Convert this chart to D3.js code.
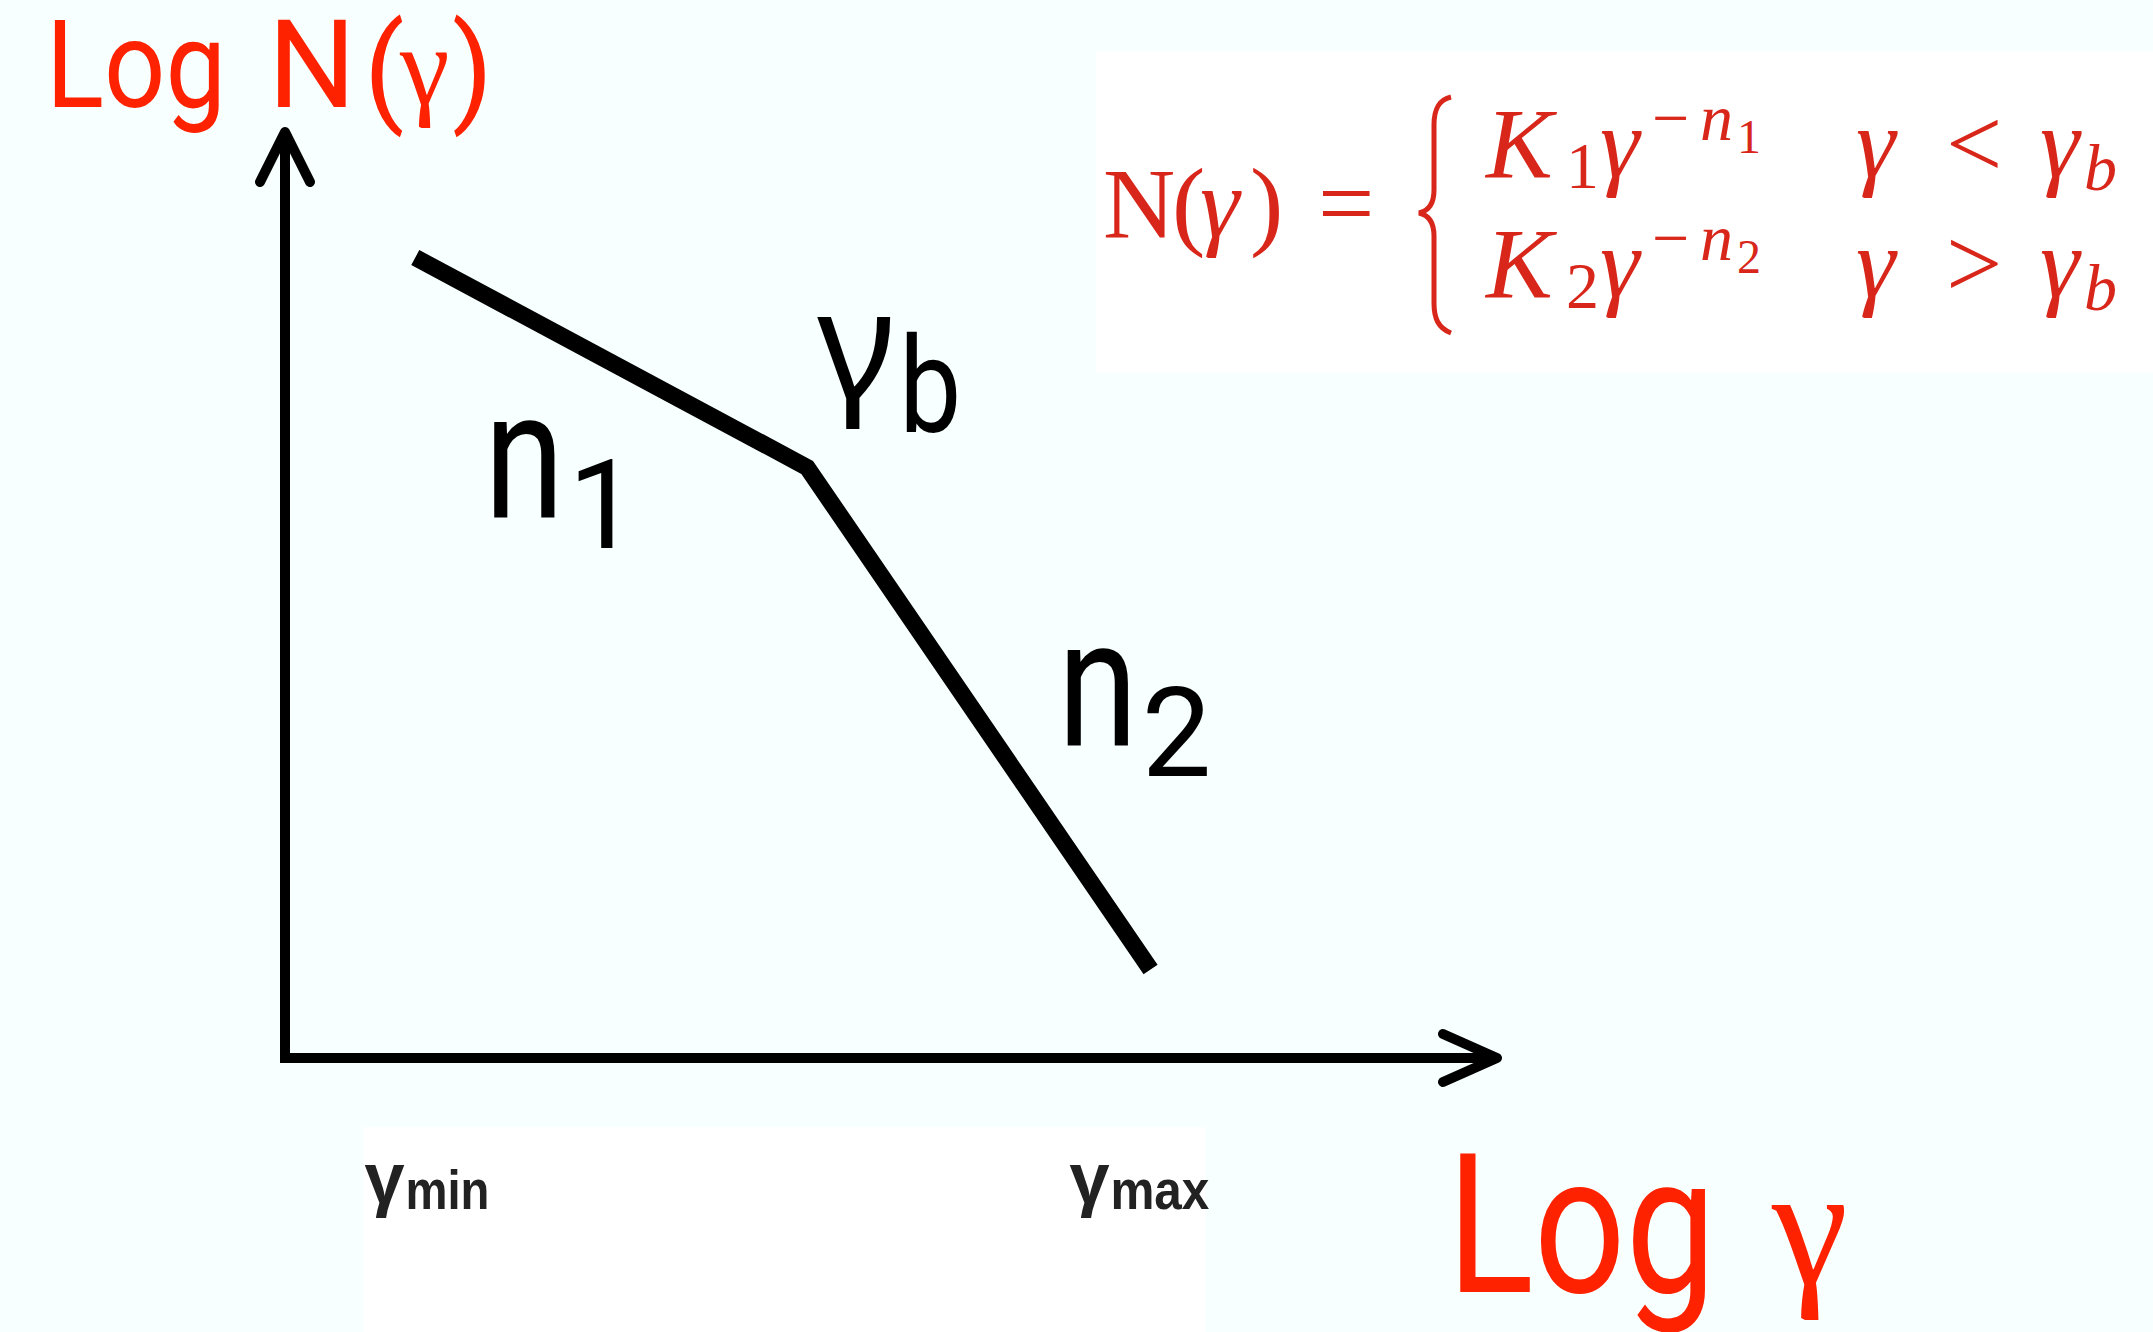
<!DOCTYPE html>
<html>
<head>
<meta charset="utf-8">
<script src="https://cdn.jsdelivr.net/npm/d3@7"></script>
<style>
  html, body { margin: 0; padding: 0; background: #f7ffff; }
  svg { display: block; }
</style>
</head>
<body>
<script>
// Broken power-law electron spectrum sketched on log–log axes.
const logGamma   = [1.29, 5.17, 8.57];   // log γ at γmin, γb, γmax
const logN       = [7.78, 5.74, 0.86];   // log N(γ) at the same points
const xExtent    = [0, 12];              // log γ axis
const yExtent    = [0, 9];               // log N(γ) axis
const tickPos    = [1.42, 8.40];         // positions of the γmin / γmax labels
const tickSub    = ["min", "max"];
const slopeSub   = ["1", "2"];           // n₁, n₂
const caseSub    = ["1", "2"];           // K₁, K₂ rows of the formula
const caseOp     = ["<", ">"];

const W = 2153, H = 1332;
const svg = d3.select("body").append("svg").attr("width", W).attr("height", H);

const x = d3.scaleLinear().domain(xExtent).range([285, 1497]);
const y = d3.scaleLinear().domain(yExtent).range([1058, 132]);

const RED = "#ff2200", FRED = "#d8261a", INK = "#000", GREY = "#222";
const HAND = "Roboto, 'Open Sans', sans-serif";
const SERIF = "'Liberation Serif', 'DejaVu Serif', serif";
const NARROW = "'Liberation Sans Narrow', 'Liberation Sans', sans-serif";

// background panels
svg.append("rect").attr("x", 1096).attr("y", 52).attr("width", W - 1096).attr("height", 320).attr("fill", "#fff");
svg.append("rect").attr("x", 364).attr("y", 1127).attr("width", 841).attr("height", H - 1127).attr("fill", "#fff");

// axes with arrowheads
const x0 = x(xExtent[0]), y0 = y(yExtent[0]);
const xTip = x(xExtent[1]), yTip = y(yExtent[1]);
const axes = d3.path();
axes.moveTo(x0, yTip); axes.lineTo(x0, y0); axes.lineTo(xTip, y0);
svg.append("path").attr("d", axes.toString())
  .attr("fill", "none").attr("stroke", INK).attr("stroke-width", 10)
  .attr("stroke-linejoin", "miter");
const heads = d3.path();
heads.moveTo(x0 - 25, yTip + 50); heads.lineTo(x0, yTip); heads.lineTo(x0 + 25, yTip + 50);
heads.moveTo(xTip - 54, y0 - 24); heads.lineTo(xTip, y0); heads.lineTo(xTip - 54, y0 + 24);
svg.append("path").attr("d", heads.toString())
  .attr("fill", "none").attr("stroke", INK).attr("stroke-width", 10)
  .attr("stroke-linecap", "round").attr("stroke-linejoin", "round");

// the spectrum
const pts = logGamma.map((g, i) => [g, logN[i]]);
svg.append("path").datum(pts)
  .attr("d", d3.line().x(d => x(d[0])).y(d => y(d[1])))
  .attr("fill", "none").attr("stroke", INK).attr("stroke-width", 17)
  .attr("stroke-linejoin", "miter").attr("stroke-linecap", "butt");

// slope labels n1, n2 beside each segment
const mids = d3.range(2).map(i => [
  (x(logGamma[i]) + x(logGamma[i + 1])) / 2,
  (y(logN[i]) + y(logN[i + 1])) / 2
]);
const slopeOff = [[-127, 155], [79, 27]];
mids.forEach((m, i) => {
  const bx = m[0] + slopeOff[i][0], by = m[1] + slopeOff[i][1];
  svg.append("text").attr("x", bx).attr("y", by)
    .attr("font-family", HAND).attr("font-size", 180).attr("fill", INK)
    .attr("textLength", 80).attr("lengthAdjust", "spacingAndGlyphs").text("n");
  svg.append("text").attr("x", bx + 84).attr("y", by + 31)
    .attr("font-family", HAND).attr("font-size", 124).attr("fill", INK).text(slopeSub[i]);
});

// break label γb at the knee
const kx = x(logGamma[1]), ky = y(logN[1]);
svg.append("text").attr("x", kx + 10).attr("y", ky - 70)
  .attr("font-family", "'Noto Sans', sans-serif").attr("font-size", 150).attr("fill", INK).text("γ");
svg.append("text").attr("x", kx + 92).attr("y", ky - 35)
  .attr("font-family", HAND).attr("font-size", 134).attr("fill", INK)
  .attr("textLength", 62).attr("lengthAdjust", "spacingAndGlyphs").text("b");

// γmin / γmax labels under the x axis
tickPos.forEach((t, i) => {
  const cx = x(t);
  svg.append("text").attr("x", cx - 64).attr("y", 1203)
    .attr("font-family", NARROW).attr("font-weight", "bold").attr("font-size", 72)
    .attr("fill", GREY).text("γ");
  svg.append("text").attr("x", cx - 23).attr("y", 1209)
    .attr("font-family", NARROW).attr("font-weight", "bold").attr("font-size", 56)
    .attr("fill", GREY).attr("textLength", i === 0 ? 84 : 99)
    .attr("lengthAdjust", "spacingAndGlyphs").text(tickSub[i]);
});

// axis titles
const yt = svg.append("g").attr("fill", RED);
yt.append("text").attr("x", 46).attr("y", 107).attr("font-family", HAND).attr("font-size", 122)
  .attr("textLength", 180).attr("lengthAdjust", "spacingAndGlyphs").text("Log");
yt.append("text").attr("x", 268).attr("y", 107).attr("font-family", HAND).attr("font-size", 122)
  .attr("textLength", 88).attr("lengthAdjust", "spacingAndGlyphs").text("N");
yt.append("text").attr("x", 364).attr("y", 110).attr("font-family", HAND).attr("font-size", 118).text("(");
yt.append("text").attr("x", 400).attr("y", 104).attr("font-family", SERIF).attr("font-size", 112).text("γ");
yt.append("text").attr("x", 452).attr("y", 110).attr("font-family", HAND).attr("font-size", 118).text(")");

const xt = svg.append("g").attr("fill", RED);
xt.append("text").attr("x", 1447).attr("y", 1292).attr("font-family", HAND).attr("font-size", 195)
  .attr("textLength", 269).attr("lengthAdjust", "spacingAndGlyphs").text("Log");
xt.append("text").attr("x", 1772).attr("y", 1283).attr("font-family", SERIF).attr("font-size", 172).text("γ");

// piecewise definition of N(γ)
const f = svg.append("g").attr("fill", FRED).attr("font-family", SERIF);
const put = (X, Y, s, size, italic) => f.append("text")
  .attr("x", X).attr("y", Y).attr("font-size", size)
  .attr("font-style", italic ? "italic" : "normal").text(s);
put(1103, 237, "N", 100, false);
put(1172, 237, "(", 100, false);
put(1200, 237, "γ", 100, true);
put(1250, 237, ")", 100, false);
put(1318, 237, "=", 100, false);
caseSub.forEach((k, i) => {
  const by = 177 + i * 120;
  put(1486, by, "K", 100, true);
  put(1566, by + 11, k, 66, false);
  put(1600, by, "γ", 100, true);
  put(1652, by - 37, "−", 66, false);
  put(1700, by - 37, "n", 66, true);
  put(1737, by - 24, k, 48, false);
  put(1856, by, "γ", 100, true);
  put(1946, by, caseOp[i], 100, false);
  put(2040, by, "γ", 100, true);
  put(2084, by + 13, "b", 66, true);
});
svg.append("path")
  .attr("d", "M1451,97 C1438,100 1434,110 1434,125 L1434,190 C1434,205 1428,211 1419,213 C1428,215 1434,221 1434,236 L1434,303 C1434,318 1438,328 1451,333")
  .attr("fill", "none").attr("stroke", FRED).attr("stroke-width", 5);
</script>
</body>
</html>
